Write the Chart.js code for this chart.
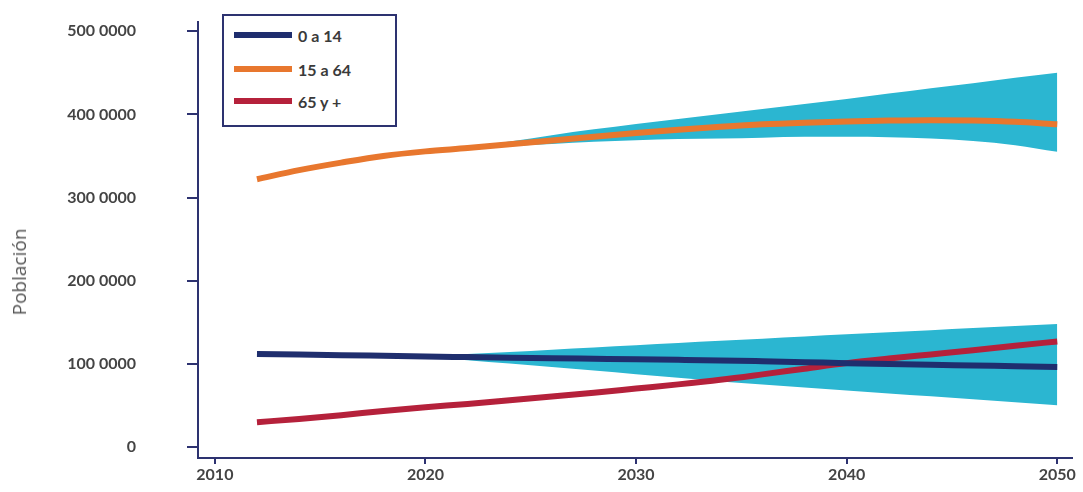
<!DOCTYPE html>
<html>
<head>
<meta charset="utf-8">
<script src="https://cdn.jsdelivr.net/npm/chart.js@4"></script>
<style>
  html, body { margin: 0; padding: 0; background: #fff; }
  #wrap { position: relative; width: 1083px; height: 492px; }
  #legend { position: absolute; left: 222px; top: 14px; width: 171px; height: 109px;
    border: 2px solid #2d3270; background: #fff; font-family: Lato, sans-serif; font-weight: bold;
    font-size: 16px; color: #3a3a3a; }
  .item { position: absolute; left: 10px; height: 20px; display: flex; align-items: center; }
  .sw { width: 58px; height: 6px; margin-right: 6px; }
  #ytitle { position: absolute; left: 19px; top: 272px; transform: translate(-50%, -50%) rotate(-90deg);
    font-family: "Open Sans", sans-serif; font-size: 19px; color: #555; white-space: nowrap; }
</style>
</head>
<body>
<div id="wrap">
  <canvas id="c" width="1083" height="492"></canvas>
  <div id="legend"></div>
  <div id="ytitle"></div>
</div>
<script>
const years = [2012, 2014, 2016, 2018, 2020, 2022, 2024, 2026, 2028, 2030, 2032, 2034, 2036, 2038, 2040, 2042, 2044, 2046, 2048, 2050];

const seriesNames = ['0 a 14', '15 a 64', '65 y +'];
const yAxisTitle = 'Población';

const age0to14 = [112, 111.3, 110.6, 109.8, 109, 108.3, 107.6, 107, 106.3, 105.6, 105, 104.3, 103.3, 102.2, 101, 100, 99, 98.2, 97.3, 96.5];
const age0to14Upper = [112, 111.3, 110.6, 109.8, 110, 112, 114.5, 117.2, 119.9, 122.6, 125.2, 127.8, 130.4, 133, 135.6, 138.1, 140.6, 143.1, 145.6, 148];
const age0to14Lower = [112, 111.3, 110.6, 109.8, 108, 104.5, 100.5, 96.3, 92.1, 87.8, 83.4, 79, 75.4, 71.8, 68.2, 64.6, 61.1, 57.6, 54, 50.5];

const age15to64 = [322, 333, 342, 350, 355.5, 359.5, 364, 368.5, 373, 377.5, 381.5, 385, 388, 390, 391.5, 392.5, 393, 392.5, 391, 388];
const age15to64Upper = [322, 333, 342, 350, 355.5, 361, 367.5, 375, 382, 388.5, 394.5, 400.5, 406.5, 412.5, 418.5, 425, 431.5, 437.5, 444, 450];
const age15to64Lower = [322, 333, 342, 350, 355.5, 358.5, 362, 364.5, 367, 369, 370.5, 371, 372, 373, 373, 372.5, 371, 368, 363, 355];

const age65plus = [30, 34, 38.5, 43.5, 48, 52, 56.5, 61, 65.5, 70.5, 75.5, 81, 87.5, 94.3, 101, 106.5, 111.5, 116.5, 122, 127];

const yTickValues = [0, 100, 200, 300, 400, 500];
const yTickLabels = ['0', '100 0000', '200 0000', '300 0000', '400 0000', '500 0000'];
const xTickValues = [2010, 2020, 2030, 2040, 2050];
const xTickLabels = ['2010', '2020', '2030', '2040', '2050'];

const lineColors = ['#1f2e6e', '#e8772e', '#b5213b'];
const bandColor = '#2bb6d1';
const axisColor = '#2d3270';

const pts = arr => years.map((y, i) => ({ x: y, y: arr[i] }));

const lineDs = (label, arr, color) => ({
  label, data: pts(arr), borderColor: color, borderWidth: 6, pointRadius: 0,
  fill: false, cubicInterpolationMode: 'monotone', order: 0
});
const bandDs = (label, arr, fill) => ({
  label, data: pts(arr), borderWidth: 0, borderColor: 'rgba(0,0,0,0)', pointRadius: 0,
  backgroundColor: bandColor, fill, cubicInterpolationMode: 'monotone', order: 1
});

const data = {
  datasets: [
    lineDs(seriesNames[0], age0to14, lineColors[0]),
    lineDs(seriesNames[1], age15to64, lineColors[1]),
    lineDs(seriesNames[2], age65plus, lineColors[2]),
    bandDs('u1', age0to14Upper, false),
    bandDs('l1', age0to14Lower, '-1'),
    bandDs('u2', age15to64Upper, false),
    bandDs('l2', age15to64Lower, '-1'),
  ]
};

const tickFont = { family: 'Lato, sans-serif', size: 16, weight: 'bold' };

new Chart(document.getElementById('c'), {
  type: 'line',
  data,
  options: {
    responsive: false,
    animation: false,
    layout: { padding: { left: 0, right: 11, top: 22, bottom: 0 } },
    plugins: { legend: { display: false }, tooltip: { enabled: false } },
    scales: {
      x: {
        type: 'linear', min: 2009.2, max: 2050.7,
        afterBuildTicks: s => { s.ticks = xTickValues.map(v => ({ value: v })); },
        afterFit: s => { s.height = 34; s.paddingLeft = 0; s.paddingRight = 0; },
        ticks: { font: tickFont, color: '#444', padding: 1,
          callback: v => xTickLabels[xTickValues.indexOf(v)] },
        grid: { drawOnChartArea: false, drawTicks: true, tickLength: 6, color: axisColor, lineWidth: 2 },
        border: { display: true, color: axisColor, width: 2 }
      },
      y: {
        min: -13, max: 511,
        afterBuildTicks: s => { s.ticks = yTickValues.map(v => ({ value: v })); },
        afterFit: s => { s.width = 198; s.paddingTop = 0; s.paddingBottom = 0; },
        ticks: { font: tickFont, color: '#444', padding: 51,
          callback: v => yTickLabels[yTickValues.indexOf(v)] },
        grid: { drawOnChartArea: false, drawTicks: true, tickLength: 11, color: axisColor, lineWidth: 2 },
        border: { display: true, color: axisColor, width: 2 },
        title: { display: false }
      }
    }
  }
});

document.getElementById('ytitle').textContent = yAxisTitle;

const leg = document.getElementById('legend');
const rowTops = [9, 43, 75];
seriesNames.forEach((n, i) => {
  const d = document.createElement('div');
  d.className = 'item';
  d.style.top = rowTops[i] + 'px';
  d.innerHTML = '<div class="sw" style="background:' + lineColors[i] + '"></div><span>' + n + '</span>';
  leg.appendChild(d);
});
</script>
</body>
</html>
